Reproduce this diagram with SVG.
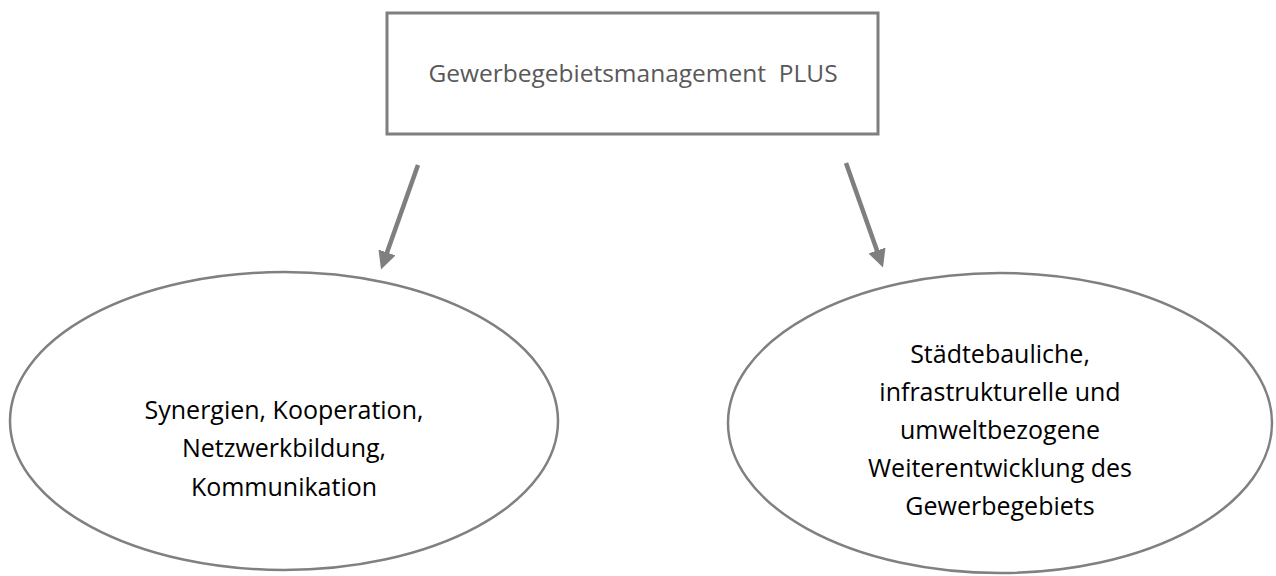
<svg xmlns="http://www.w3.org/2000/svg" width="1276" height="576" viewBox="0 0 1276 576">
<style>
.box{fill:#fff;stroke:#7f7f7f;stroke-width:3}
.ell{fill:#fff;stroke:#808080;stroke-width:2.5}
.conn{stroke:#7f7f7f;stroke-width:4.5;fill:none}
.t{font-family:"Open Sans","Liberation Sans",sans-serif;text-anchor:middle}
.title{font-size:24.5px;fill:#595959}
.lbl{font-size:25px;fill:#000}
</style>
<defs>
<marker id="ah" markerWidth="4" markerHeight="4" refX="2" refY="2" orient="auto" markerUnits="strokeWidth">
<path d="M0,0 L4,2 L0,4 Z" fill="#7f7f7f"/>
</marker>
</defs>
<g id="node-top">
<rect class="box" x="387" y="13" width="491" height="121"/>
<text class="t title" x="633" y="82" xml:space="preserve">Gewerbegebietsmanagement  PLUS</text>
</g>
<g id="connectors">
<line class="conn" x1="418" y1="165" x2="384" y2="261" marker-end="url(#ah)"/>
<line class="conn" x1="846" y1="163" x2="880" y2="259" marker-end="url(#ah)"/>
</g>
<g id="node-left">
<ellipse class="ell" cx="284" cy="421" rx="274" ry="149"/>
<text class="t lbl" x="284" y="419">Synergien, Kooperation,</text>
<text class="t lbl" x="284" y="457">Netzwerkbildung,</text>
<text class="t lbl" x="284" y="496">Kommunikation</text>
</g>
<g id="node-right">
<ellipse class="ell" cx="1000" cy="423" rx="272" ry="150"/>
<text class="t lbl" x="1000" y="363">Städtebauliche,</text>
<text class="t lbl" x="1000" y="401">infrastrukturelle und</text>
<text class="t lbl" x="1000" y="439">umweltbezogene</text>
<text class="t lbl" x="1000" y="477">Weiterentwicklung des</text>
<text class="t lbl" x="1000" y="515">Gewerbegebiets</text>
</g>
</svg>
